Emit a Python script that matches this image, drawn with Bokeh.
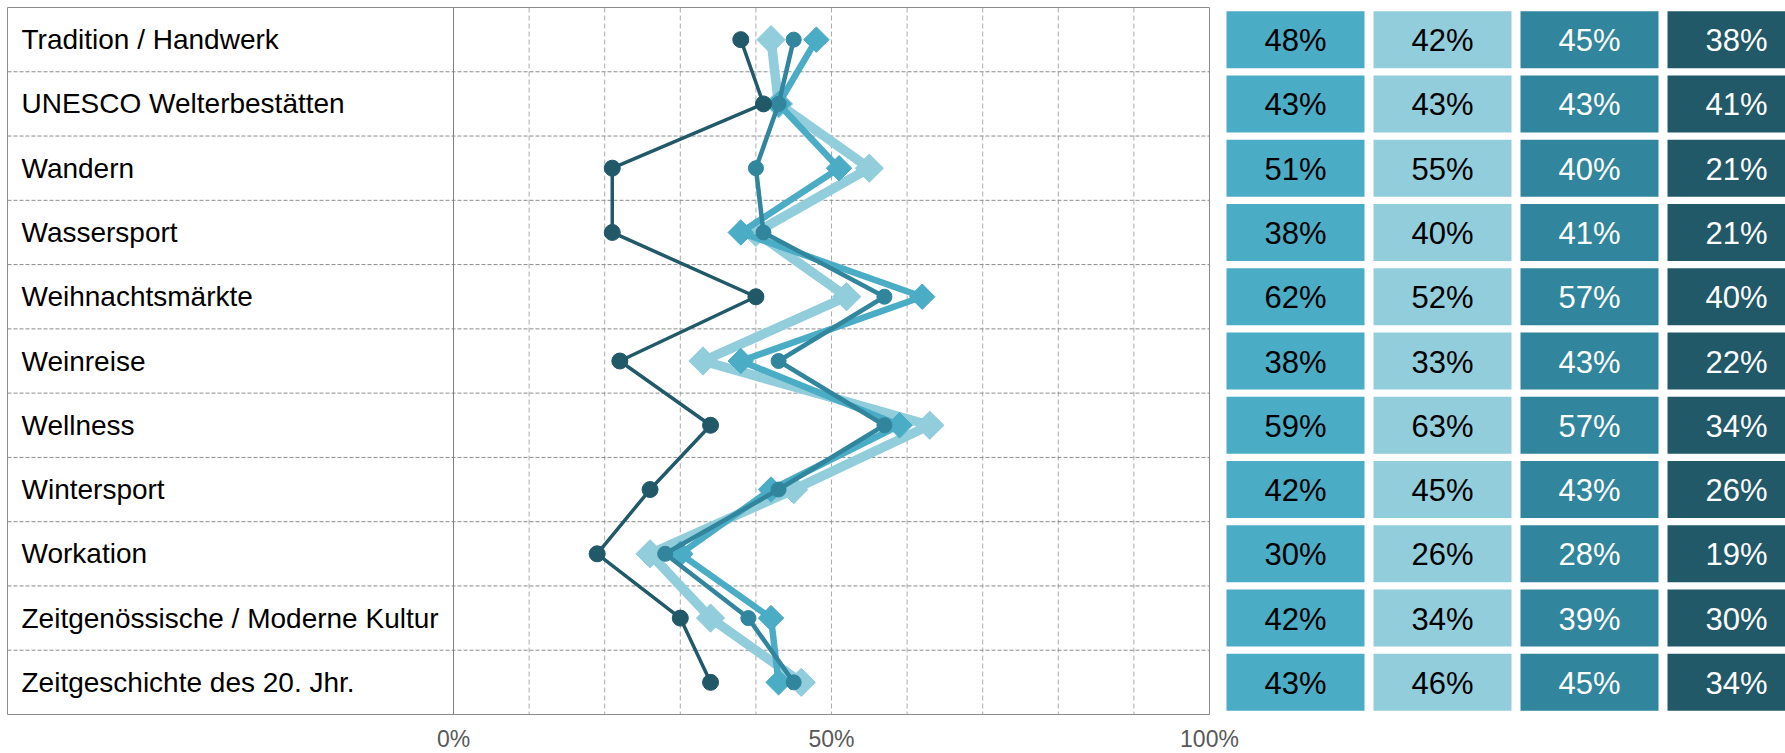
import math
from bokeh.plotting import figure
from bokeh.models import Range1d, FixedTicker
from bokeh.embed import file_html
from bokeh.resources import INLINE
from bokeh.core.properties import value

# ---------------- data ----------------
categories = [
    "Tradition / Handwerk",
    "UNESCO Welterbestätten",
    "Wandern",
    "Wassersport",
    "Weihnachtsmärkte",
    "Weinreise",
    "Wellness",
    "Wintersport",
    "Workation",
    "Zeitgenössische / Moderne Kultur",
    "Zeitgeschichte des 20. Jhr.",
]
series_1 = [48, 43, 51, 38, 62, 38, 59, 42, 30, 42, 43]
series_2 = [42, 43, 55, 40, 52, 33, 63, 45, 26, 34, 46]
series_3 = [45, 43, 40, 41, 57, 43, 57, 43, 28, 39, 45]
series_4 = [38, 41, 21, 21, 40, 22, 34, 26, 19, 30, 34]
x_ticks = [0, 50, 100]
x_tick_labels = ["0%", "50%", "100%"]
grid_ticks = [10, 20, 30, 40, 50, 60, 70, 80, 90]

# ---------------- styles / layout ----------------
colors = ["#4BACC6", "#92CDDC", "#31859C", "#215968"]
text_colors = ["#000000", "#000000", "#FFFFFF", "#FFFFFF"]
FONT = "Liberation Sans"

n = len(categories)
y_pos = [i + 0.5 for i in range(n)]

FIG_W = 1785
FRAME_H = 724
FRAME_LEFT_PX = 7
FRAME_TOP_PX = 7
FRAME_BOTTOM_PX = 714
ZERO_PX = 453       # absolute x of 0 %
PLOT_W = 756        # px for 0..100 %
K = PLOT_W / 100.0  # px per percent
ROW_PX = (FRAME_BOTTOM_PX - FRAME_TOP_PX) / n

def xd(abs_px):
    return (abs_px - ZERO_PX) / K

x_start = xd(0)
x_end = xd(FIG_W)
y_top = -FRAME_TOP_PX / ROW_PX
y_bottom = n + (FRAME_H - FRAME_BOTTOM_PX) / ROW_PX

p = figure(
    frame_width=FIG_W,
    frame_height=FRAME_H,
    x_range=Range1d(x_start, x_end),
    y_range=Range1d(y_bottom, y_top),
    output_backend="svg",
    toolbar_location=None,
    y_axis_location=None,
    min_border_left=0,
    min_border_right=0,
    min_border_top=0,
    min_border_bottom=0,
    outline_line_color=None,
    background_fill_color="white",
    border_fill_color="white",
)
p.xgrid.grid_line_color = None
p.ygrid.grid_line_color = None

x_frame_left = xd(FRAME_LEFT_PX)

# vertical dashed grid lines (chart area only)
p.segment(x0=grid_ticks, x1=grid_ticks, y0=[0] * len(grid_ticks), y1=[n] * len(grid_ticks),
          line_color="#ABABAB", line_dash="5 3", line_width=1)

# horizontal dashed row separators (label column + plot)
bounds = list(range(1, n))
p.segment(x0=[x_frame_left] * len(bounds), x1=[100] * len(bounds), y0=bounds, y1=bounds,
          line_color="#8C8C8C", line_dash="4 2", line_width=1)

# frame and label-column separator
p.quad(left=[x_frame_left], right=[100], top=[0], bottom=[n],
       fill_color=None, line_color="#8C8C8C", line_width=1)
p.segment(x0=[0], x1=[0], y0=[0], y1=[n], line_color="#808080", line_width=1)

# row labels
p.text(x=[x_frame_left] * n, y=y_pos, text=categories, x_offset=14,
       text_align="left", text_baseline="middle",
       text_font=value(FONT), text_font_size="28px", text_color="#000000")

# series lines
p.line(series_2, y_pos, line_color=colors[1], line_width=9.5)
p.scatter(series_2, y_pos, marker="square", angle=math.pi / 4, size=20,
          fill_color=colors[1], line_color=colors[1])
p.line(series_1, y_pos, line_color=colors[0], line_width=6.5)
p.scatter(series_1, y_pos, marker="square", angle=math.pi / 4, size=18,
          fill_color=colors[0], line_color=colors[0])
p.line(series_3, y_pos, line_color=colors[2], line_width=4.5)
p.scatter(series_3, y_pos, marker="circle", size=15,
          fill_color=colors[2], line_color=colors[2])
p.line(series_4, y_pos, line_color=colors[3], line_width=3.5)
p.scatter(series_4, y_pos, marker="circle", size=16,
          fill_color=colors[3], line_color=colors[3])

# table
all_series = [series_1, series_2, series_3, series_4]
COL0_PX = 1295
COL_PITCH = 147
for i, s in enumerate(all_series):
    cx = xd(COL0_PX + i * COL_PITCH)
    p.rect(x=[cx] * n, y=y_pos, width=138, width_units="screen",
           height=57 / ROW_PX, fill_color=colors[i], line_color=None)
    p.text(x=[cx] * n, y=y_pos, text=[f"{v}%" for v in s],
           text_align="center", text_baseline="middle", y_offset=1,
           text_font=value(FONT), text_font_size="31px", text_color=text_colors[i])

# x axis
ax = p.xaxis[0]
ax.ticker = FixedTicker(ticks=x_ticks)
ax.major_label_overrides = {t: l for t, l in zip(x_ticks, x_tick_labels)}
ax.axis_line_color = None
ax.major_tick_line_color = None
ax.minor_tick_line_color = None
ax.major_tick_out = 0
ax.major_tick_in = 0
ax.major_label_standoff = 1
ax.major_label_text_font = FONT
ax.major_label_text_font_size = "23px"
ax.major_label_text_color = "#595959"

open("out.html", "w").write(file_html(p, INLINE))
